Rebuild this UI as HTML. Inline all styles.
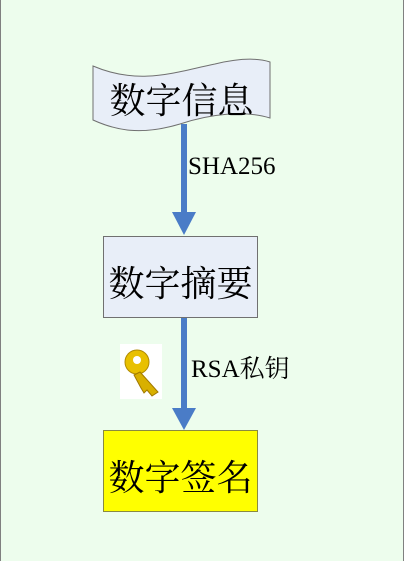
<!DOCTYPE html>
<html><head><meta charset="utf-8"><style>
body{margin:0;width:404px;height:561px;overflow:hidden;background:#edfded;position:relative;font-family:"Liberation Serif","Noto Serif CJK SC",serif}
.frame{position:absolute;left:0;top:0;width:402px;height:561px;border-left:1px solid #808080;border-right:1px solid #808080}
.t{position:absolute;font-size:36px;color:#000;text-align:center;white-space:nowrap}
.lbl{position:absolute;font-size:25px;color:#000;font-family:"Liberation Serif","Noto Serif CJK SC",serif;white-space:nowrap}
</style></head><body>
<div class="frame"></div>
<svg width="404" height="561" style="position:absolute;left:0;top:0">
<path d="M93,66 C140,86 175,72 215,64 C240,58 258,58 270,62 L270,118 C245,110 210,114 180,124 C140,136 115,130 93,120 Z" fill="#e8eef8" stroke="#707070" stroke-width="1"/>
<rect x="181" y="124" width="6" height="90" fill="#4a7cc7"/>
<polygon points="172,212 196,212 184,235" fill="#4a7cc7"/>
<rect x="103.5" y="236.5" width="154" height="81" fill="#e8eef8" stroke="#707070"/>
<rect x="181" y="318" width="6" height="92" fill="#4a7cc7"/>
<polygon points="172,408 196,408 184,430" fill="#4a7cc7"/>
<rect x="103.5" y="430.5" width="154" height="81" fill="#ffff00" stroke="#8a8a40"/>
<rect x="120" y="344" width="42" height="55" fill="#fff"/>
<circle cx="137" cy="362" r="12" fill="#e8c000" stroke="#b08a00"/>
<circle cx="137" cy="360" r="4" fill="#fff"/>
<path d="M140,372 L158,392 L152,396 L147,390 L144,393 L141,388 L134,375 Z" fill="#d8b000" stroke="#a07800"/>
</svg>
<div class="t" style="left:93px;top:73px;width:177px">数字信息</div>
<div class="t" style="left:103px;top:256px;width:155px">数字摘要</div>
<div class="t" style="left:103px;top:450px;width:155px">数字签名</div>
<div class="lbl" style="left:188px;top:153px">SHA256</div>
<div class="lbl" style="left:191px;top:349px">RSA私钥</div>
</body></html>
